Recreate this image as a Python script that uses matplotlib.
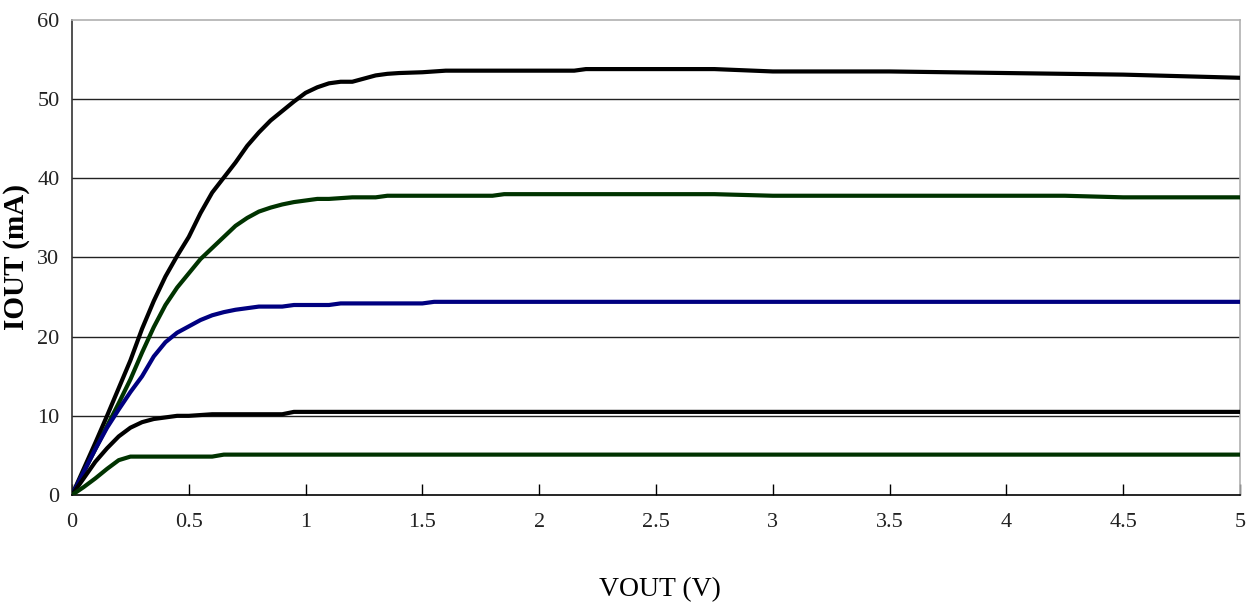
import matplotlib.pyplot as plt
import numpy as np

# IOUT vs VOUT curves (V, mA)
v_top = [0, 0.05, 0.1, 0.15, 0.2, 0.25, 0.3, 0.35, 0.4, 0.45, 0.5, 0.55, 0.6, 0.65,
         0.7, 0.75, 0.8, 0.85, 0.9, 0.95, 1.0, 1.05, 1.1, 1.15, 1.2, 1.25, 1.3, 1.35,
         1.4, 1.5, 1.6, 2.15, 2.2, 2.75, 3.0, 3.5, 4.0, 4.5, 5.0]
i_top = [0, 3.3, 6.6, 10.0, 13.5, 17.0, 21.0, 24.5, 27.6, 30.2, 32.6, 35.6, 38.2, 40.1,
         42.0, 44.1, 45.8, 47.3, 48.5, 49.7, 50.8, 51.5, 52.0, 52.2, 52.2, 52.6, 53.0, 53.2,
         53.3, 53.4, 53.6, 53.6, 53.8, 53.8, 53.5, 53.5, 53.3, 53.1, 52.7]

v_g1 = [0, 0.05, 0.1, 0.15, 0.2, 0.25, 0.3, 0.35, 0.4, 0.45, 0.5, 0.55, 0.6, 0.65,
        0.7, 0.75, 0.8, 0.85, 0.9, 0.95, 1.0, 1.05, 1.1, 1.2, 1.3, 1.35, 1.8, 1.85,
        2.75, 3.0, 4.25, 4.5, 5.0]
i_g1 = [0, 2.9, 5.8, 8.7, 11.6, 14.6, 18.0, 21.2, 24.0, 26.2, 28.0, 29.8, 31.2, 32.6,
        34.0, 35.0, 35.8, 36.3, 36.7, 37.0, 37.2, 37.4, 37.4, 37.6, 37.6, 37.8, 37.8, 38.0,
        38.0, 37.8, 37.8, 37.6, 37.6]

v_blue = [0, 0.05, 0.1, 0.15, 0.2, 0.25, 0.3, 0.35, 0.4, 0.45, 0.5, 0.55, 0.6, 0.65,
          0.7, 0.8, 0.9, 0.95, 1.1, 1.15, 1.5, 1.55, 5.0]
i_blue = [0, 2.9, 5.8, 8.5, 10.8, 13.0, 15.0, 17.5, 19.3, 20.5, 21.3, 22.1, 22.7, 23.1,
          23.4, 23.8, 23.8, 24.0, 24.0, 24.2, 24.2, 24.4, 24.4]

v_k10 = [0, 0.05, 0.1, 0.15, 0.2, 0.25, 0.3, 0.35, 0.4, 0.45, 0.5, 0.6, 0.9, 0.95, 5.0]
i_k10 = [0, 2.1, 4.2, 5.9, 7.4, 8.5, 9.2, 9.6, 9.8, 10.0, 10.0, 10.2, 10.2, 10.5, 10.5]

v_g5 = [0, 0.05, 0.1, 0.15, 0.2, 0.25, 0.6, 0.65, 5.0]
i_g5 = [0, 1.0, 2.1, 3.3, 4.4, 4.85, 4.85, 5.1, 5.1]

series = [
    (v_top, i_top, '#000000'),
    (v_g1, i_g1, '#003300'),
    (v_blue, i_blue, '#000080'),
    (v_k10, i_k10, '#000000'),
    (v_g5, i_g5, '#003300'),
]

x_ticks = [0, 0.5, 1, 1.5, 2, 2.5, 3, 3.5, 4, 4.5, 5]
x_tick_labels = ['0', '0.5', '1', '1.5', '2', '2.5', '3', '3.5', '4', '4.5', '5']
y_ticks = [0, 10, 20, 30, 40, 50, 60]


def main():
    plt.rcParams['font.family'] = ['Liberation Serif', 'DejaVu Serif']
    fig = plt.figure(figsize=(12.48, 6.07), dpi=100)
    ax = fig.add_axes([72 / 1248, 112 / 607, 1168 / 1248, 475 / 607])

    for y in y_ticks[1:-1]:
        ax.axhline(y, color='#222222', lw=1.0, zorder=1)

    for v, i, c in series:
        ax.plot(v, i, color=c, lw=3.0, solid_joinstyle='round', zorder=3)

    ax.set_xlim(0, 5)
    ax.set_ylim(0, 60)
    ax.set_xticks(x_ticks)
    ax.set_xticklabels(x_tick_labels)
    ax.set_yticks(y_ticks)
    ax.tick_params(axis='x', direction='in', length=8, width=1.0, pad=13,
                   labelsize=16, labelcolor='#222222')
    ax.tick_params(axis='y', length=0, pad=9, labelsize=16, labelcolor='#222222')

    ax.spines['left'].set_color('#333333')
    ax.spines['bottom'].set_color('#000000')
    ax.spines['top'].set_color('#b0b0b0')
    ax.spines['right'].set_color('#b0b0b0')
    for s in ax.spines.values():
        s.set_linewidth(1.2)

    ax.set_xlabel('VOUT (V)', fontsize=20)
    ax.xaxis.set_label_coords(0.503, -0.172)
    ax.set_ylabel('IOUT (mA)', fontsize=21, fontweight='bold')
    ax.yaxis.set_label_coords(-0.036, 0.5)

    fig.savefig('out.png', dpi=100)


if __name__ == '__main__':
    main()
